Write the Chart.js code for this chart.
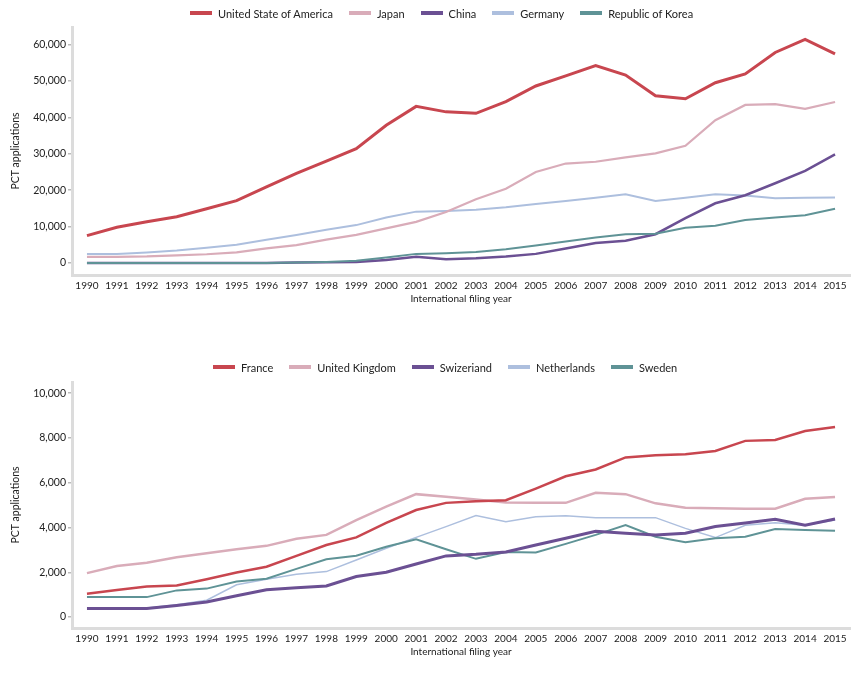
<!DOCTYPE html>
<html>
<head>
<meta charset="utf-8">
<script src="https://cdn.jsdelivr.net/npm/chart.js@4.4.1/dist/chart.umd.min.js"></script>
<style>
  body { margin: 0; background: #fff; font-family: Lato, sans-serif; }
  .box { position: absolute; left: 0; width: 859px; }
  #top { top: 0; height: 305px; }
  #bottom { top: 340px; height: 318px; }
  .legend { position: absolute; display: flex; align-items: center; white-space: nowrap; font-size: 11px; color: #222; }
  .legend .item { display: flex; align-items: center; margin-right: 16px; }
  .legend .sw { width: 22px; height: 4px; margin-right: 6px; }
</style>
</head>
<body>
<div class="box" id="top"><canvas id="chart1"></canvas></div>
<div class="box" id="bottom"><canvas id="chart2"></canvas></div>
<div class="legend" id="legend1" style="left:190px; top:6px; height:14px;"></div>
<div class="legend" id="legend2" style="left:213px; top:360px; height:14px;"></div>
<script>
const years = ['1990','1991','1992','1993','1994','1995','1996','1997','1998','1999','2000','2001','2002','2003','2004','2005','2006','2007','2008','2009','2010','2011','2012','2013','2014','2015'];

// top chart
const usa = [7500,9800,11300,12700,14900,17100,20900,24600,28000,31400,37800,43000,41500,41100,44300,48600,51400,54200,51600,45900,45100,49500,51900,57800,61400,57400];
const japan = [1700,1700,1800,2100,2400,2900,4000,4900,6400,7700,9500,11300,14000,17500,20400,25000,27300,27800,29000,30100,32200,39200,43400,43600,42300,44200];
const china = [0,0,0,0,0,0,0,100,200,300,800,1700,1000,1300,1800,2500,4000,5500,6100,7900,12300,16400,18600,21900,25300,29800];
const germany = [2500,2500,2900,3400,4200,5000,6400,7700,9100,10400,12500,14100,14300,14600,15300,16200,17000,17900,18900,17000,17900,18900,18500,17800,17900,18000];
const korea = [0,0,0,0,0,0,0,100,300,600,1500,2500,2700,3000,3800,4800,5900,7000,7900,8000,9700,10200,11800,12500,13100,14900];
const topTicks = [0,10000,20000,30000,40000,50000,60000];

// bottom chart
const france = [1040,1210,1360,1410,1690,1990,2250,2730,3220,3560,4210,4780,5100,5170,5220,5740,6290,6590,7130,7230,7270,7420,7870,7910,8310,8490];
const uk = [1960,2280,2430,2670,2850,3030,3180,3500,3670,4330,4930,5490,5370,5250,5120,5100,5100,5550,5490,5080,4880,4860,4840,4840,5280,5360];
const switzerland = [380,380,380,520,670,950,1220,1310,1390,1810,2000,2370,2730,2800,2910,3220,3520,3830,3740,3670,3740,4040,4200,4370,4100,4380];
const netherlands = [400,400,400,550,750,1440,1690,1910,2030,2550,3070,3560,4040,4530,4260,4480,4530,4440,4440,4440,3960,3550,4100,4210,4100,4330];
const sweden = [890,890,890,1190,1270,1590,1710,2150,2580,2740,3140,3470,3030,2600,2900,2880,3270,3670,4110,3590,3340,3520,3590,3930,3890,3860];
const bottomTicks = [0,2000,4000,6000,8000,10000];

const RED = '#c8464f', PINK = '#d9acb9', PURPLE = '#6b5093', BLUE = '#adbfde', TEAL = '#5f9396';
const FONT = 'Lato';

function series(label, data, color, width, order) {
  return { label: label, data: data, borderColor: color, backgroundColor: color, borderWidth: width, pointRadius: 0, tension: 0, fill: false, order: order || 0 };
}

function buildLegend(id, datasets) {
  const el = document.getElementById(id);
  datasets.forEach(ds => {
    const item = document.createElement('div');
    item.className = 'item';
    const sw = document.createElement('div');
    sw.className = 'sw';
    sw.style.background = ds.borderColor;
    const txt = document.createElement('span');
    txt.textContent = ds.label;
    item.appendChild(sw);
    item.appendChild(txt);
    el.appendChild(item);
  });
}

function makeChart(id, datasets, ticks, yMin, yMax, padTop) {
  return new Chart(document.getElementById(id), {
    type: 'line',
    data: { labels: years, datasets: datasets },
    options: {
      responsive: true,
      maintainAspectRatio: false,
      animation: false,
      layout: { padding: { left: 9, right: 9, top: padTop, bottom: 0 } },
      plugins: {
        tooltip: { enabled: false },
        legend: { display: false }
      },
      scales: {
        x: {
          offset: true,
          afterFit: function (scale) { scale.height = 30; },
          grid: { display: false, tickLength: 0 },
          border: { display: true, color: '#dcdcdc', width: 3 },
          ticks: { color: '#222', maxRotation: 0, autoSkip: false, padding: 5, font: { family: FONT, size: 10 } },
          title: { display: true, text: 'International filing year', color: '#222', padding: 0, font: { family: FONT, size: 10 } }
        },
        y: {
          min: yMin,
          max: yMax,
          afterBuildTicks: function (scale) { scale.ticks = ticks.map(v => ({ value: v })); },
          afterFit: function (scale) { scale.width = 63; },
          grid: { display: true, drawOnChartArea: false, drawTicks: true, tickLength: 4, color: '#bbb', lineWidth: 1.5 },
          border: { display: true, color: '#dcdcdc', width: 3 },
          ticks: { color: '#222', padding: 2, font: { family: FONT, size: 10.5 }, callback: v => v.toLocaleString('en-US') },
          title: { display: true, text: 'PCT applications', color: '#222', padding: 0, font: { family: FONT, size: 10.5 } }
        }
      }
    }
  });
}

const topSets = [
  series('United State of America', usa, RED, 3, 0),
  series('Japan', japan, PINK, 2.2, 1),
  series('China', china, PURPLE, 2.5, 3),
  series('Germany', germany, BLUE, 2, 4),
  series('Republic of Korea', korea, TEAL, 2, 2)
];
const bottomSets = [
  series('France', france, RED, 2.5, 0),
  series('United Kingdom', uk, PINK, 2.5, 1),
  series('Swizeriand', switzerland, PURPLE, 3, 2),
  series('Netherlands', netherlands, BLUE, 1.5, 4),
  series('Sweden', sweden, TEAL, 2, 3)
];

makeChart('chart1', topSets, topTicks, -3300, 64800, 27);
makeChart('chart2', bottomSets, bottomTicks, -490, 10500, 42);
buildLegend('legend1', topSets);
buildLegend('legend2', bottomSets);
</script>
</body>
</html>
